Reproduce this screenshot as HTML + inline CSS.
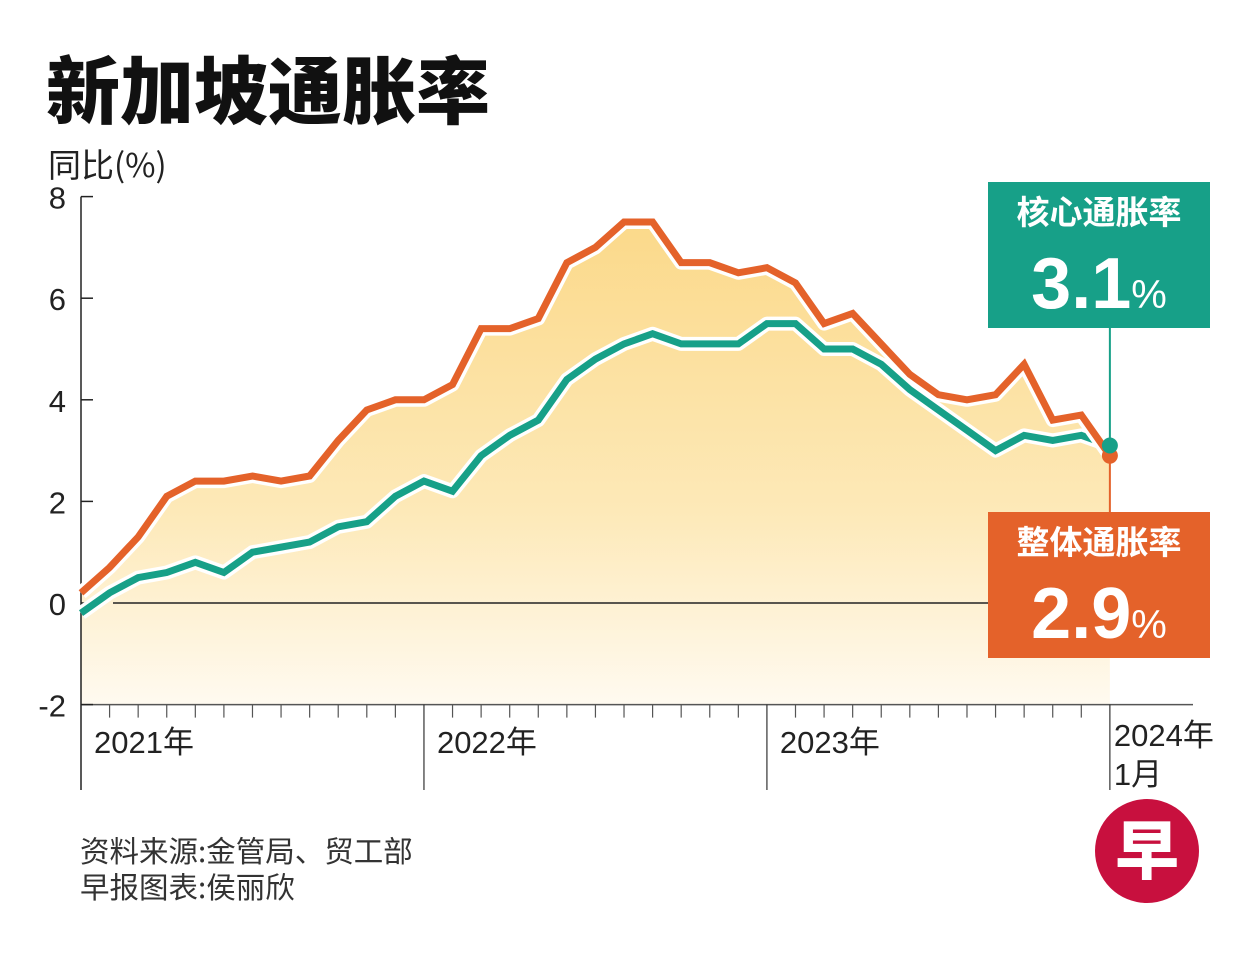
<!DOCTYPE html>
<html><head><meta charset="utf-8"><style>
body{margin:0;background:#fff;width:1251px;height:954px;overflow:hidden;font-family:"Liberation Sans","Noto Sans CJK SC",sans-serif}
</style></head><body>
<svg id="chart" width="1251" height="954" xmlns="http://www.w3.org/2000/svg" font-family="'Liberation Sans','Noto Sans CJK SC',sans-serif">
<defs><linearGradient id="fg" x1="0" y1="0" x2="0" y2="1"><stop offset="0" stop-color="#fbd98a"/><stop offset="0.6" stop-color="#fde9b8"/><stop offset="1" stop-color="#fffaf0"/></linearGradient></defs>
<text x="46" y="118" font-size="74" font-weight="900" fill="#111" font-family="'Noto Sans CJK SC',sans-serif">新加坡通胀率</text>
<text x="48" y="177" font-size="33" fill="#222" font-family="'Noto Sans CJK SC',sans-serif">同比(%)</text>
<g id="plot"></g>
<text x="80" y="862" font-size="29.5" fill="#333" font-family="'Noto Sans CJK SC',sans-serif">资料来源:金管局、贸工部</text>
<text x="80" y="898" font-size="29.5" fill="#333" font-family="'Noto Sans CJK SC',sans-serif">早报图表:侯丽欣</text>
<g><circle cx="1147" cy="851" r="52" fill="#c8103e"/><text x="1147" y="874" text-anchor="middle" font-size="64" font-weight="900" fill="#fff" font-family="'Noto Sans CJK SC',sans-serif">早</text></g>
</svg>
<script>
const months=["2021-01","2021-02","2021-03","2021-04","2021-05","2021-06","2021-07","2021-08","2021-09","2021-10","2021-11","2021-12","2022-01","2022-02","2022-03","2022-04","2022-05","2022-06","2022-07","2022-08","2022-09","2022-10","2022-11","2022-12","2023-01","2023-02","2023-03","2023-04","2023-05","2023-06","2023-07","2023-08","2023-09","2023-10","2023-11","2023-12","2024-01"];
const headline=[0.2,0.7,1.3,2.1,2.4,2.4,2.5,2.4,2.5,3.2,3.8,4.0,4.0,4.3,5.4,5.4,5.6,6.7,7.0,7.5,7.5,6.7,6.7,6.5,6.6,6.3,5.5,5.7,5.1,4.5,4.1,4.0,4.1,4.7,3.6,3.7,2.9];
const core=[-0.2,0.2,0.5,0.6,0.8,0.6,1.0,1.1,1.2,1.5,1.6,2.1,2.4,2.2,2.9,3.3,3.6,4.4,4.8,5.1,5.3,5.1,5.1,5.1,5.5,5.5,5.0,5.0,4.7,4.2,3.8,3.4,3.0,3.3,3.2,3.3,3.1];
const yTicks=[8,6,4,2,0,-2];
const yearLabels=["2021年","2022年","2023年"];
const NS="http://www.w3.org/2000/svg";
const g=document.getElementById('plot');
const x=i=>81+i*28.58;
const y=v=>603-v*50.8;
function el(t,a){const e=document.createElementNS(NS,t);for(const k in a)e.setAttribute(k,a[k]);g.appendChild(e);return e;}
const n=months.length;
let d=`M${x(0)},${y(-2)} `+headline.map((v,i)=>`L${x(i)},${y(v)}`).join(' ')+` L${x(n-1)},${y(-2)} Z`;
let f=el('path',{d:d,fill:'url(#fg)'});


let z=el('line',{x1:113,y1:y(0),x2:1000,y2:y(0),stroke:'#222','stroke-width':1.5});


let ax=el('line',{x1:81,y1:y(8),x2:81,y2:790,stroke:'#222','stroke-width':1.5});


let bx=el('line',{x1:81,y1:y(-2),x2:1193,y2:y(-2),stroke:'#555','stroke-width':1.5});


yTicks.forEach(v=>{
 const t=el('line',{x1:81,y1:y(v),x2:93,y2:y(v),stroke:'#222','stroke-width':1.5});
 
 
 const l=el('text',{x:66,y:y(v)+12,'text-anchor':'end','font-size':31,fill:'#222'});
 
 
 l.textContent=v;
});
for(let i=1;i<n-1;i++){
 if(i%12===0){
  const t=el('line',{x1:x(i),y1:y(-2),x2:x(i),y2:790,stroke:'#333','stroke-width':1.2});
  
  
 } else {
  const t=el('line',{x1:x(i),y1:y(-2),x2:x(i),y2:y(-2)+13,stroke:'#555','stroke-width':1.2});
  
  
 }
}
const lastDiv=el('line',{x1:x(n-1),y1:y(-2),x2:x(n-1),y2:790,stroke:'#333','stroke-width':1.2});


yearLabels.forEach((s,k)=>{
 const l=el('text',{x:x(k*12)+13,y:753,'font-size':31,fill:'#222'});
 
 
 l.textContent=s;
});
const l24=el('text',{x:x(n-1)+4,y:746,'font-size':31,fill:'#222'});


l24.textContent='2024年';
const l24b=el('text',{x:x(n-1)+4,y:785,'font-size':31,fill:'#222'});


l24b.textContent='1月';
let c1=el('line',{x1:x(n-1),y1:328,x2:x(n-1),y2:y(core[n-1]),stroke:'#17a088','stroke-width':2});


let c2=el('line',{x1:x(n-1),y1:y(headline[n-1]),x2:x(n-1),y2:512,stroke:'#e4622a','stroke-width':2});


function line(arr,col,name){
 const p=arr.map((v,i)=>`${i?'L':'M'}${x(i)},${y(v)}`).join(' ');
 const w=el('path',{d:p,fill:'none',stroke:'#fff','stroke-width':14,'stroke-linejoin':'round'});
 
 
 const s=el('path',{d:p,fill:'none',stroke:col,'stroke-width':7,'stroke-linejoin':'miter'});
 
 
}
line(core,'#17a088','core');
line(headline,'#e4622a','headline');
let d2=el('circle',{cx:x(n-1),cy:y(headline[n-1]),r:8,fill:'#e4622a'});


let d1=el('circle',{cx:x(n-1),cy:y(core[n-1]),r:8,fill:'#17a088'});


function box(yTop,col,title,val,name){
 const r=el('rect',{x:988,y:yTop,width:222,height:146,fill:col});
 
 
 const t=el('text',{x:1099,y:yTop+42,'text-anchor':'middle','font-size':33,'font-weight':'bold',fill:'#fff','font-family':"'Noto Sans CJK SC',sans-serif"});
 
 
 t.textContent=title;
 const v=el('text',{x:1099,y:yTop+126,'text-anchor':'middle',fill:'#fff','font-weight':'bold'});
 
 
 v.innerHTML=`<tspan font-size="72">${val}</tspan><tspan font-size="40" font-weight="normal">%</tspan>`;
}
box(182,'#17a088','核心通胀率',core[n-1].toFixed(1),'core');
box(512,'#e4622a','整体通胀率',headline[n-1].toFixed(1),'headline');
</script>
</body></html>
